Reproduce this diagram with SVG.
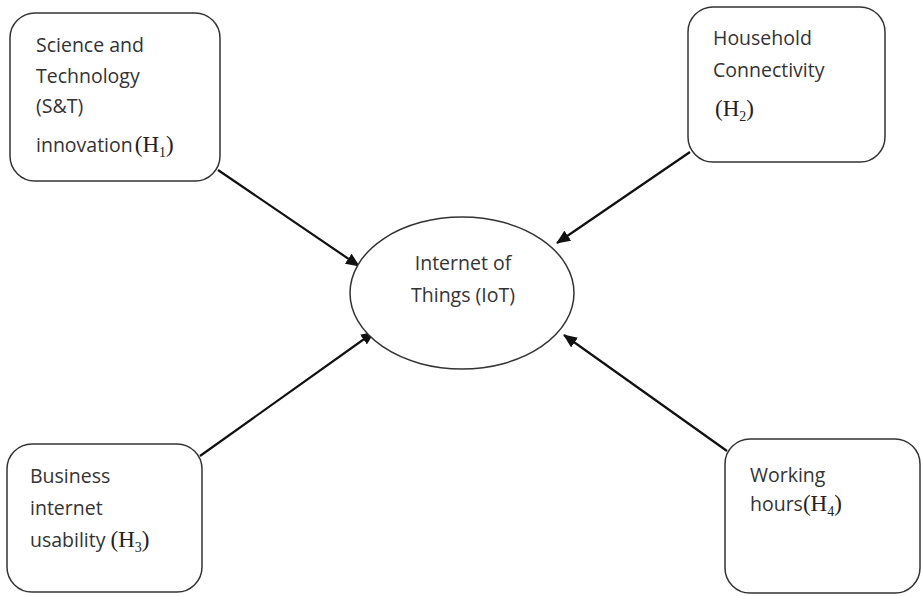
<svg xmlns="http://www.w3.org/2000/svg" width="921" height="596" viewBox="0 0 921 596">
<defs>
<style>
.box{fill:#fff;stroke:#333;stroke-width:1.5}
.t{font-family:"Open Sans","Liberation Sans",sans-serif;font-size:19.5px;fill:#333}
.s{font-family:"Liberation Serif",serif;font-size:23px;fill:#222}
.sub{font-size:14px}
.c{stroke:#111;stroke-width:2.2;fill:none;marker-end:url(#ah)}
</style>
<marker id="ah" viewBox="0 0 14 12" refX="13" refY="6" markerWidth="14" markerHeight="12" markerUnits="userSpaceOnUse" orient="auto">
<path d="M0,0 L14,6 L0,12 z" fill="#111"/>
</marker>
</defs>
<rect width="921" height="596" fill="#fff"/>
<g id="connectors">
<line class="c" x1="218" y1="170" x2="359" y2="266"/>
<line class="c" x1="690" y1="152" x2="557" y2="243"/>
<line class="c" x1="200" y1="456" x2="374" y2="332"/>
<line class="c" x1="727" y1="451" x2="564" y2="335"/>
</g>
<g id="iot">
<ellipse class="box" cx="462" cy="293" rx="112" ry="76"/>
<text class="t" x="463" y="270" text-anchor="middle">Internet of</text>
<text class="t" x="463" y="302" text-anchor="middle">Things (IoT)</text>
</g>
<g id="h1">
<rect class="box" x="10" y="13" width="210" height="168" rx="25"/>
<text class="t" x="36" y="52">Science and</text>
<text class="t" x="36" y="83">Technology</text>
<text class="t" x="36" y="113">(S&amp;T)</text>
<text class="t" x="36" y="152">innovation<tspan class="s" dx="2">(H<tspan class="sub" dy="5">1</tspan><tspan dy="-5">)</tspan></tspan></text>
</g>
<g id="h2">
<rect class="box" x="688" y="7" width="197" height="155" rx="25"/>
<text class="t" x="713" y="45">Household</text>
<text class="t" x="713" y="77">Connectivity</text>
<text class="s" x="715" y="116">(H<tspan class="sub" dy="5">2</tspan><tspan dy="-5">)</tspan></text>
</g>
<g id="h3">
<rect class="box" x="7" y="444" width="195" height="148" rx="25"/>
<text class="t" x="30" y="483">Business</text>
<text class="t" x="30" y="515">internet</text>
<text class="t" x="30" y="547">usability <tspan class="s">(H<tspan class="sub" dy="5">3</tspan><tspan dy="-5">)</tspan></tspan></text>
</g>
<g id="h4">
<rect class="box" x="725" y="439" width="195" height="154" rx="25"/>
<text class="t" x="750" y="482">Working</text>
<text class="t" x="750" y="511">hours<tspan class="s">(H<tspan class="sub" dy="5">4</tspan><tspan dy="-5">)</tspan></tspan></text>
</g>
</svg>
